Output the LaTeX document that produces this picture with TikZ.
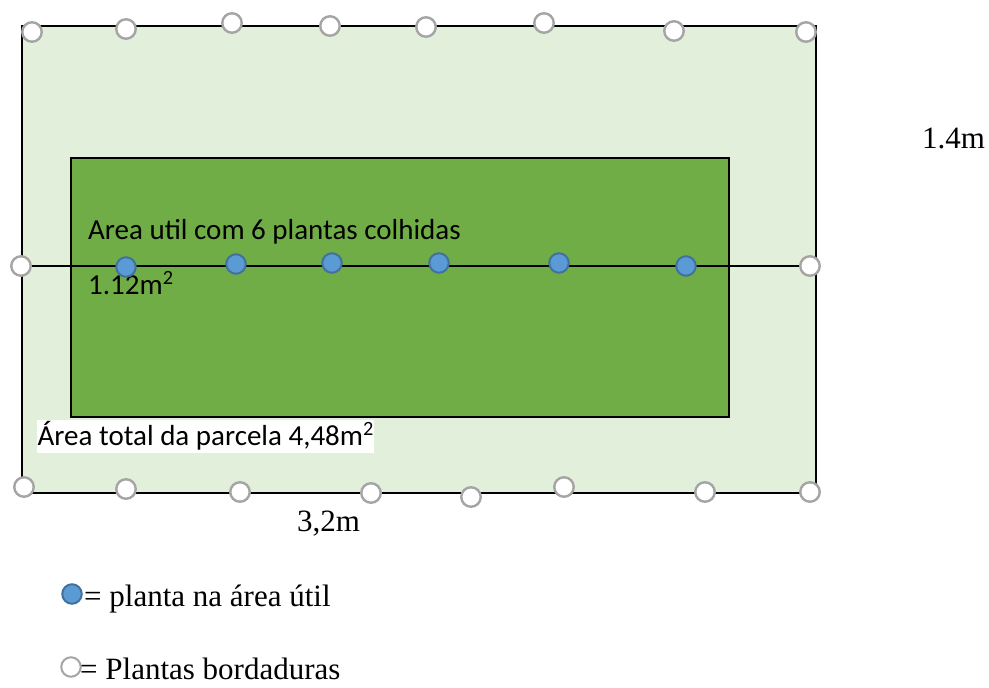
\documentclass[tikz,border=0pt]{standalone}
\usepackage{fontspec}
\usepackage{tikz}
\usepackage{xcolor}
\setmainfont{Liberation Serif}
\newfontfamily\calibrifont{Carlito}
\definecolor{bordagreen}{HTML}{E2EFDA}
\definecolor{utilgreen}{HTML}{70AD47}
\definecolor{plantblue}{HTML}{5B9BD5}
\definecolor{plantedge}{HTML}{41719C}
\definecolor{bordagray}{HTML}{A5A5A5}
\tikzset{
        plant_node/.style={circle, minimum size=19.5pt, inner sep=0pt},
        p_bord/.style={plant_node, draw=bordagray, line width=2.4pt, fill=white},
        p_util/.style={plant_node, draw=plantedge, line width=2pt, fill=plantblue},
        sans_text/.style={anchor=base west, inner sep=0pt, font=\calibrifont\fontsize{29}{34}\selectfont},
        serif_text/.style={anchor=base west, inner sep=0pt, font=\fontsize{31}{36}\selectfont},
        plot_line/.style={line width=2pt, draw=black}
    }
\begin{document}
\begin{tikzpicture}[x=1pt, y=-1pt]
    \useasboundingbox (0,0) rectangle (989,688);
    % parcela
    \fill[bordagreen] (22,26) rectangle (816,493);
    \draw[plot_line] (22,26) rectangle (816,493);
    \fill[utilgreen] (71,158) rectangle (729,417);
    \draw[plot_line] (71,158) rectangle (729,417);
    % textos da parcela
    \node[sans_text] (util) at (88,239) {Area util com 6 plantas colhidas};
    \node[sans_text] (utilarea) at (88,294) {1.12m\textsuperscript{2}};
    \node[sans_text, fill=white, inner xsep=0.5pt, text height=25pt, text depth=8pt] (total) at (37,445) {Área total da parcela 4,48m\textsuperscript{2}};
    \node[serif_text] (largura) at (297,531) {3,2m};
    \node[serif_text] (altura) at (922,148) {1.4m};
    % linha central
    \node[p_bord] (m1) at (21,266) {};
    \node[p_bord] (m2) at (810,266) {};
    \draw[line width=1.8pt] (m1) -- (m2);
    % plantas bordaduras, topo
    \node[p_bord] (t1) at (32,32) {};
    \node[p_bord] (t2) at (126,29) {};
    \node[p_bord] (t3) at (232,23) {};
    \node[p_bord] (t4) at (330,26) {};
    \node[p_bord] (t5) at (426,27) {};
    \node[p_bord] (t6) at (544,23) {};
    \node[p_bord] (t7) at (674,31) {};
    \node[p_bord] (t8) at (806,32) {};
    % plantas bordaduras, base
    \node[p_bord] (f1) at (24,487) {};
    \node[p_bord] (f2) at (126,489) {};
    \node[p_bord] (f3) at (240,492) {};
    \node[p_bord] (f4) at (371,493) {};
    \node[p_bord] (f5) at (471,497) {};
    \node[p_bord] (f6) at (564,487) {};
    \node[p_bord] (f7) at (705,492) {};
    \node[p_bord] (f8) at (810,492) {};
    % plantas na area util
    \node[p_util] (u1) at (126,267) {};
    \node[p_util] (u2) at (236,264) {};
    \node[p_util] (u3) at (332,263) {};
    \node[p_util] (u4) at (439,263) {};
    \node[p_util] (u5) at (559,263) {};
    \node[p_util] (u6) at (686,266) {};
    % legenda
    \node[p_util] (leg_util) at (72,594) {};
    \node[serif_text] (leg_util_text) at (84,606) {= planta na área útil};
    \node[p_bord, line width=2pt] (leg_bord) at (71,667) {};
    \node[serif_text] (leg_bord_text) at (80,679) {= Plantas bordaduras};
\end{tikzpicture}
\end{document}
